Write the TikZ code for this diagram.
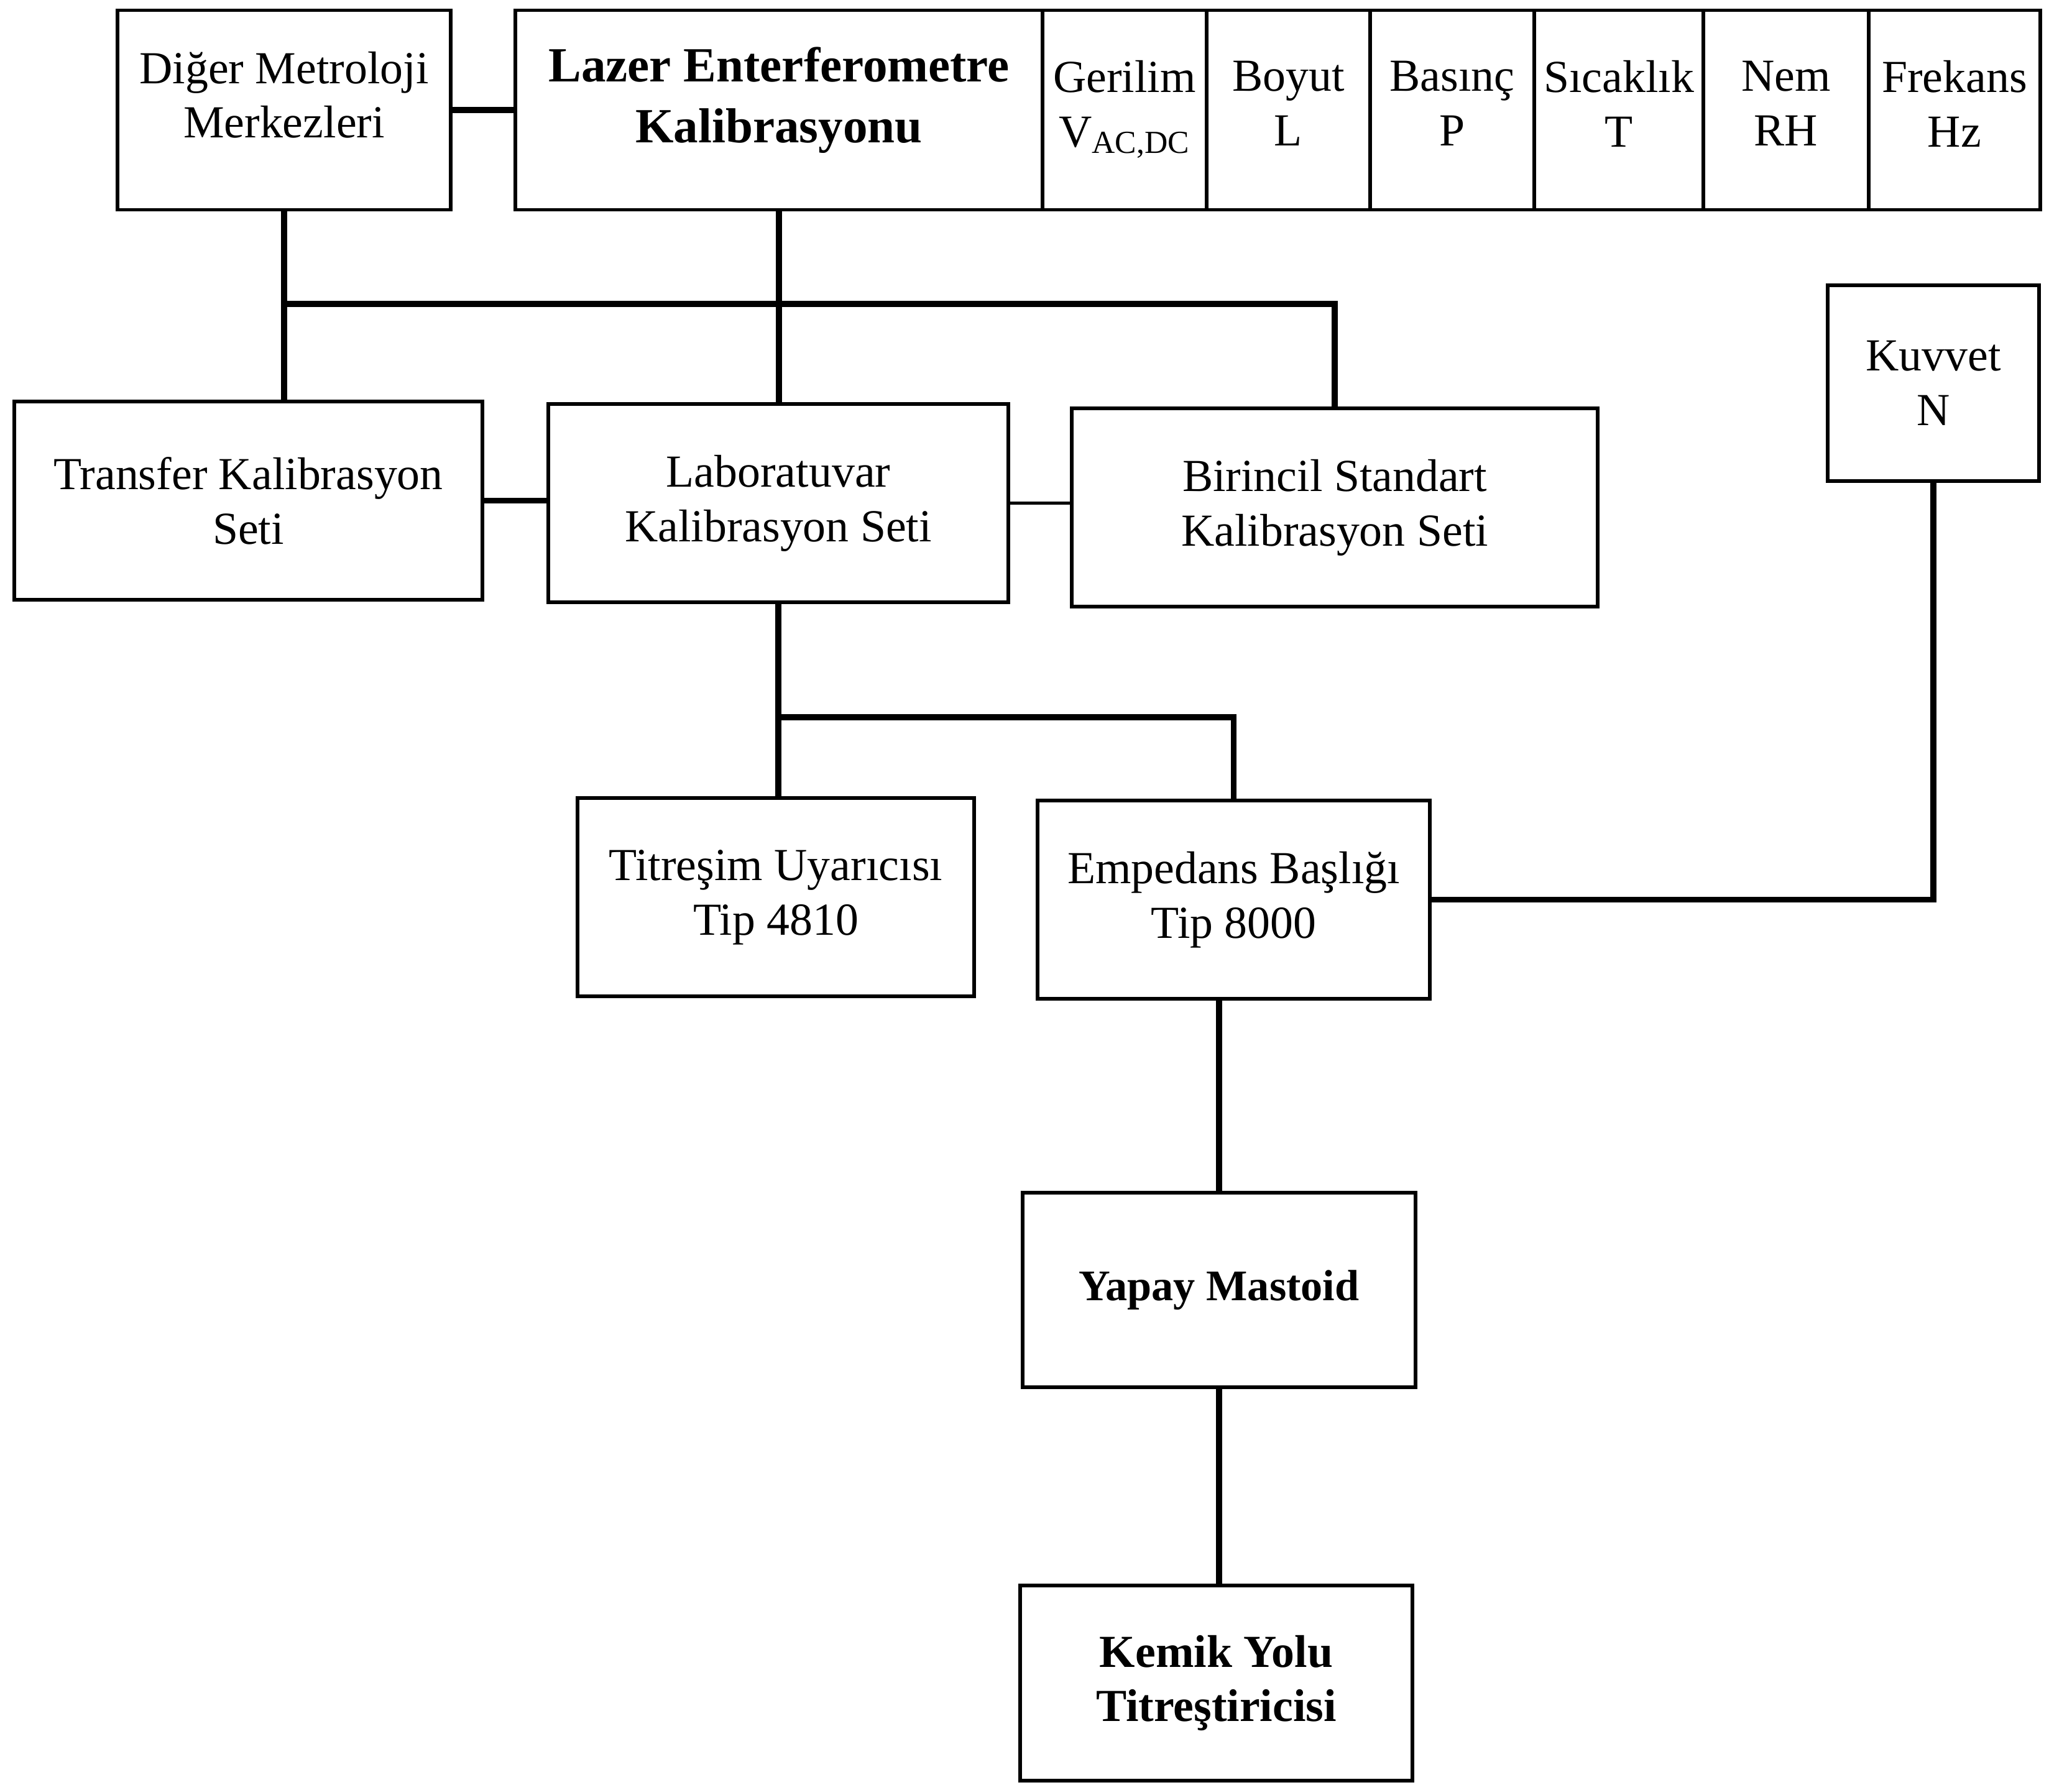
\documentclass[tikz,border=0pt]{standalone}
\usepackage{fontspec}
\setmainfont{Liberation Serif}
\usetikzlibrary{positioning}
\begin{document}
\begin{tikzpicture}
		% formatos
		\tikzstyle{kutu} = [draw, rectangle, line width=1.5pt, align=center, outer sep=0pt, font=\fontsize{21}{25}\selectfont]
		\tikzstyle{ust} = [kutu, minimum height=3.21cm, text depth=14pt]
		\tikzstyle{hucre} = [ust, inner xsep=1pt, text depth=6pt]
		\tikzstyle{hat} = [line width=2.8pt]
		\tikzstyle{ince} = [line width=1.4pt]
		\useasboundingbox (0,0) rectangle (33.33,-28.71);
		% nodos
		\node [ust, minimum width=5.36cm] (dig) at (4.57,-1.77) {Diğer Metroloji\\Merkezleri};
		\node [ust, minimum width=8.48cm, font=\fontsize{22.5}{28}\selectfont\bfseries] (laz) at (12.53,-1.77) {Lazer Enterferometre\\Kalibrasyonu};
		\node [hucre, minimum width=2.64cm] (ger) [right=0pt of laz] {Gerilim\\V\textsubscript{AC,DC}};
		\node [hucre, minimum width=2.63cm] (boy) [right=0pt of ger] {Boyut\\L};
		\node [hucre, minimum width=2.64cm] (bas) [right=0pt of boy] {Basınç\\P};
		\node [hucre, minimum width=2.72cm] (sic) [right=0pt of bas] {Sıcaklık\\T};
		\node [hucre, minimum width=2.66cm] (nem) [right=0pt of sic] {Nem\\RH};
		\node [hucre, minimum width=2.76cm] (fre) [right=0pt of nem] {Frekans\\Hz};
		\node [kutu, minimum width=7.53cm, minimum height=3.19cm] (tra) at (3.995,-8.055) {Transfer Kalibrasyon\\Seti};
		\node [kutu, minimum width=7.40cm, minimum height=3.19cm] (lab) at (12.52,-8.095) {Laboratuvar\\Kalibrasyon Seti};
		\node [kutu, minimum width=8.46cm, minimum height=3.19cm] (bir) at (21.47,-8.165) {Birincil Standart\\Kalibrasyon Seti};
		\node [kutu, minimum width=3.40cm, minimum height=3.15cm] (kuv) at (31.10,-6.165) {Kuvvet\\N};
		\node [kutu, minimum width=6.38cm, minimum height=3.19cm] (tit) at (12.48,-14.435) {Titreşim Uyarıcısı\\Tip 4810};
		\node [kutu, minimum width=6.31cm, minimum height=3.19cm] (emp) at (19.845,-14.475) {Empedans Başlığı\\Tip 8000};
		\node [kutu, minimum width=6.32cm, minimum height=3.13cm, font=\fontsize{20}{25}\selectfont\bfseries] (yap) at (19.61,-20.755) {Yapay Mastoid};
		\node [kutu, minimum width=6.31cm, minimum height=3.14cm, font=\fontsize{21}{25}\selectfont\bfseries] (kem) at (19.565,-27.08) {Kemik Yolu\\Titreştiricisi};
		\coordinate (bus) at (0,-4.89);
		\coordinate (dal) at (0,-11.54);
		% relaciones
		\draw [hat] (dig.east) -- (dig.east -| laz.west);
		\draw [hat] (dig.south) -- (dig.south |- tra.north);
		\draw [hat] (dig.south |- bus) -| (bir.north);
		\draw [hat] (laz.south) -- (laz.south |- lab.north);
		\draw [hat] (tra.east) -- (tra.east -| lab.west);
		\draw [ince] (lab.east) -- (lab.east -| bir.west);
		\draw [hat] (lab.south) -- (lab.south |- tit.north);
		\draw [hat] (lab.south |- dal) -| (emp.north);
		\draw [hat] (emp.east) -| (kuv.south);
		\draw [hat] (yap.north |- emp.south) -- (yap.north);
		\draw [hat] (yap.south) -- (yap.south |- kem.north);
	\end{tikzpicture}
\end{document}
